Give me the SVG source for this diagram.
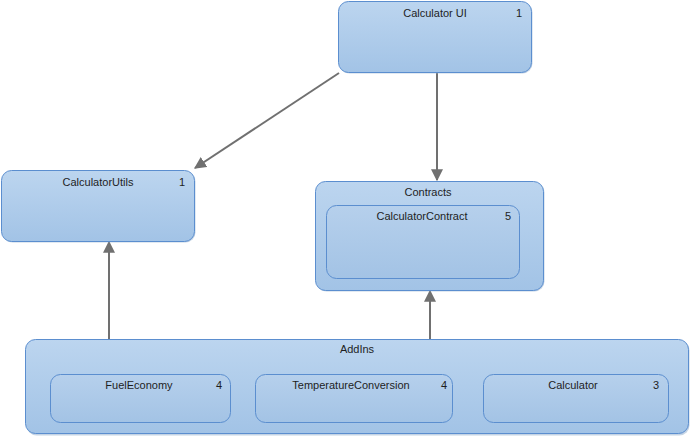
<svg xmlns="http://www.w3.org/2000/svg" width="690" height="436" viewBox="0 0 690 436">
<style>
.box{fill:url(#g);stroke:#5b8ecf;stroke-width:1}
.inner{fill:url(#g2);stroke:#5b8ecf;stroke-width:1}
.sh{fill:#9fb7d4;opacity:0.6}
text{font-family:"Liberation Sans","DejaVu Sans",sans-serif;font-size:11px;fill:#1e1e1e}
.c{text-anchor:middle}
.conn{stroke:#707070;stroke-width:2;fill:none;marker-end:url(#ah)}
</style>
<defs>
<linearGradient id="g" x1="0" y1="0" x2="0" y2="1">
<stop offset="0" stop-color="#bcd5ef"/>
<stop offset="1" stop-color="#a2c3e6"/>
</linearGradient>
<linearGradient id="g2" x1="0" y1="0" x2="0" y2="1">
<stop offset="0" stop-color="#b6d0ec"/>
<stop offset="1" stop-color="#a3c3e5"/>
</linearGradient>
<marker id="ah" viewBox="0 0 10 10" refX="9" refY="5" markerWidth="6" markerHeight="6" markerUnits="strokeWidth" orient="auto">
<path d="M0,0 L10,5 L0,10 z" fill="#707070"/>
</marker>
</defs>
<g id="connectors">
<line class="conn" x1="339" y1="73" x2="195" y2="168"/>
<line class="conn" x1="437" y1="72" x2="437" y2="180"/>
<line class="conn" x1="109" y1="339" x2="109" y2="242"/>
<line class="conn" x1="430" y1="339" x2="430" y2="291"/>
</g>
<g id="calculator-ui">
<rect class="sh" x="339.5" y="2.5" width="193" height="71" rx="10"/>
<rect class="box" x="338.5" y="1.5" width="193" height="71" rx="10"/>
<text class="c" x="435" y="17">Calculator UI</text>
<text x="516" y="17">1</text>
</g>
<g id="calculator-utils">
<rect class="sh" x="2.5" y="171.5" width="193" height="71" rx="10"/>
<rect class="box" x="1.5" y="170.5" width="193" height="71" rx="10"/>
<text class="c" x="98" y="186">CalculatorUtils</text>
<text x="179" y="186">1</text>
</g>
<g id="contracts">
<rect class="sh" x="316.5" y="182.5" width="228" height="109" rx="10"/>
<rect class="box" x="315.5" y="181.5" width="228" height="109" rx="10"/>
<text class="c" x="428" y="196">Contracts</text>
<g id="calculator-contract">
<rect class="inner" x="326.5" y="205.5" width="193" height="73" rx="10"/>
<text class="c" x="422" y="220">CalculatorContract</text>
<text x="505" y="220">5</text>
</g>
</g>
<g id="addins">
<rect class="sh" x="26.5" y="340.5" width="663" height="95" rx="10"/>
<rect class="box" x="25.5" y="339.5" width="663" height="94" rx="10"/>
<text class="c" x="357" y="353">AddIns</text>
<g id="fuel-economy">
<rect class="inner" x="50.5" y="374.5" width="180" height="48" rx="10"/>
<text class="c" x="139" y="389">FuelEconomy</text>
<text x="216" y="389">4</text>
</g>
<g id="temperature-conversion">
<rect class="inner" x="255.5" y="374.5" width="197" height="48" rx="10"/>
<text class="c" x="351" y="389">TemperatureConversion</text>
<text x="441" y="389">4</text>
</g>
<g id="calculator">
<rect class="inner" x="483.5" y="374.5" width="185" height="48" rx="10"/>
<text class="c" x="573" y="389">Calculator</text>
<text x="653" y="389">3</text>
</g>
</g>
</svg>
